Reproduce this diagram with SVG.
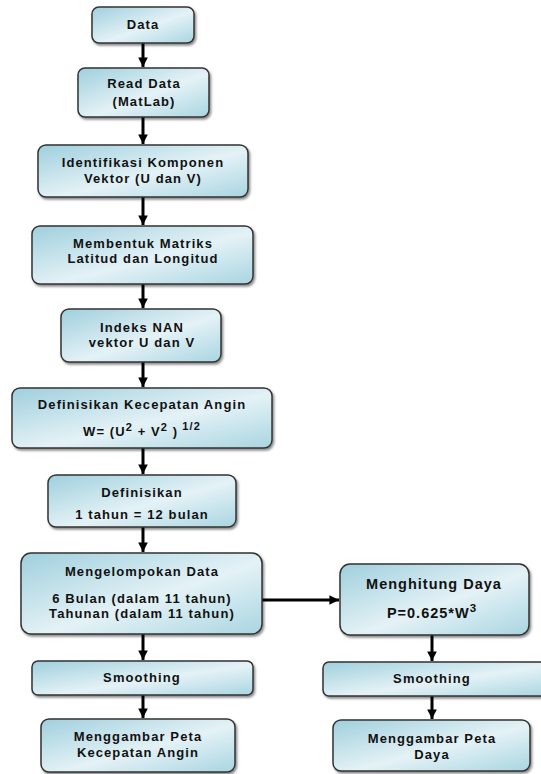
<svg xmlns="http://www.w3.org/2000/svg" width="541" height="774" viewBox="0 0 541 774">
<defs>
<linearGradient id="g" x1="0" y1="0" x2="1" y2="1">
<stop offset="0" stop-color="#9fcfdd"/>
<stop offset="0.55" stop-color="#e4f2f6"/>
<stop offset="1" stop-color="#a9d5e1"/>
</linearGradient>
<filter id="sh" x="-10%" y="-10%" width="130%" height="140%">
<feDropShadow dx="1.5" dy="2" stdDeviation="1.2" flood-color="#000" flood-opacity="0.45"/>
</filter>
<marker id="ah" viewBox="0 0 10 10" refX="10" refY="5" markerWidth="3.2" markerHeight="3.2" orient="auto" markerUnits="strokeWidth">
<path d="M0,0 L10,5 L0,10 z" fill="#000"/>
</marker>
<style>
.b{fill:url(#g);stroke:#333;stroke-width:1.5;filter:url(#sh)}
.t{font-family:"Liberation Sans",Arial,sans-serif;font-weight:bold;font-size:13px;letter-spacing:1.1px;fill:#111;text-anchor:middle}
.big{font-size:14.5px;letter-spacing:1px}
.c{stroke:#000;stroke-width:3;fill:none;marker-end:url(#ah)}
</style>
</defs>
<g id="connectors">
<line class="c" x1="143" y1="43" x2="143" y2="67"/>
<line class="c" x1="143" y1="117" x2="143" y2="144"/>
<line class="c" x1="143" y1="197" x2="143" y2="225"/>
<line class="c" x1="143" y1="284" x2="143" y2="308"/>
<line class="c" x1="143" y1="362" x2="143" y2="387"/>
<line class="c" x1="143" y1="448" x2="143" y2="474"/>
<line class="c" x1="143" y1="527" x2="143" y2="552"/>
<line class="c" x1="143" y1="634" x2="143" y2="660"/>
<line class="c" x1="143" y1="695" x2="143" y2="718"/>
<line class="c" x1="262" y1="600" x2="339" y2="600"/>
<line class="c" x1="432" y1="635" x2="432" y2="661"/>
<line class="c" x1="432" y1="696" x2="432" y2="719"/>
</g>
<g id="n1"><rect class="b" x="92" y="7" width="102" height="36" rx="7"/><text class="t" x="143" y="29">Data</text></g>
<g id="n2"><rect class="b" x="78" y="68" width="131" height="49" rx="7"/><text class="t" x="144" y="88">Read Data</text><text class="t" x="144" y="106">(MatLab)</text></g>
<g id="n3"><rect class="b" x="38" y="145" width="210" height="52" rx="8"/><text class="t" x="143" y="167">Identifikasi Komponen</text><text class="t" x="143" y="183">Vektor (U dan V)</text></g>
<g id="n4"><rect class="b" x="32" y="226" width="221" height="58" rx="8"/><text class="t" x="143" y="248">Membentuk Matriks</text><text class="t" x="143" y="263">Latitud dan Longitud</text></g>
<g id="n5"><rect class="b" x="61" y="309" width="160" height="53" rx="8"/><text class="t" x="142" y="332">Indeks NAN</text><text class="t" x="142" y="347">vektor U dan V</text></g>
<g id="n6"><rect class="b" x="12" y="388" width="260" height="60" rx="8"/><text class="t" x="142" y="409">Definisikan Kecepatan Angin</text><text class="t" x="142" y="436">W= (U<tspan font-size="11" dy="-5">2</tspan><tspan dy="5"> + V</tspan><tspan font-size="11" dy="-5">2</tspan><tspan dy="5"> )</tspan><tspan font-size="11" dy="-6"> 1/2</tspan></text></g>
<g id="n7"><rect class="b" x="48" y="475" width="188" height="52" rx="8"/><text class="t" x="142" y="497">Definisikan</text><text class="t" x="142" y="519">1 tahun = 12 bulan</text></g>
<g id="n8"><rect class="b" x="21" y="553" width="241" height="81" rx="10"/><text class="t" x="142" y="576">Mengelompokan Data</text><text class="t" x="142" y="603">6 Bulan (dalam 11 tahun)</text><text class="t" x="142" y="618">Tahunan (dalam 11 tahun)</text></g>
<g id="n9"><rect class="b" x="32" y="661" width="221" height="34" rx="6"/><text class="t" x="142" y="682">Smoothing</text></g>
<g id="n10"><rect class="b" x="41" y="719" width="194" height="53" rx="8"/><text class="t" x="138" y="741">Menggambar Peta</text><text class="t" x="138" y="757">Kecepatan Angin</text></g>
<g id="n11"><rect class="b" x="340" y="564" width="189" height="71" rx="10"/><text class="t big" x="434" y="589">Menghitung Daya</text><text class="t big" x="432" y="618">P=0.625*W<tspan font-size="11.5" dy="-6">3</tspan></text></g>
<g id="n12"><rect class="b" x="323" y="662" width="224" height="34" rx="6"/><text class="t" x="432" y="683">Smoothing</text></g>
<g id="n13"><rect class="b" x="333" y="720" width="197" height="51" rx="8"/><text class="t" x="432" y="743">Menggambar Peta</text><text class="t" x="432" y="759">Daya</text></g>
</svg>
